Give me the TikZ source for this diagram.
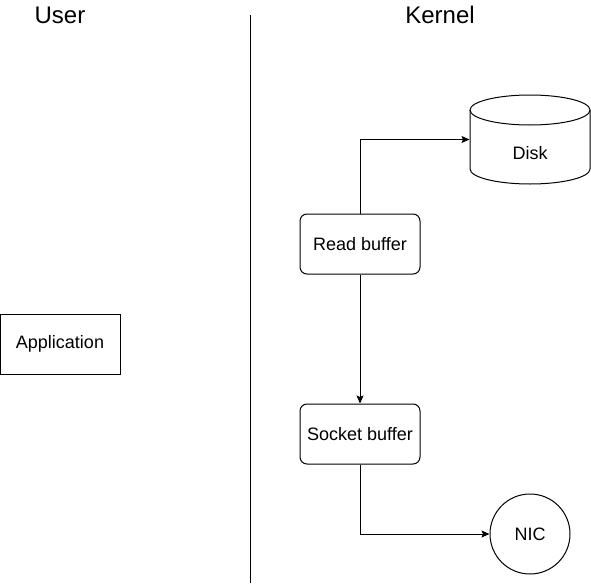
\documentclass[tikz,border=0pt]{standalone}
\usepackage{fontspec}
\setmainfont{Liberation Sans}
\usetikzlibrary{arrows.meta}
\begin{document}
\begin{tikzpicture}[x=1pt,y=-1pt,line width=1pt,
  every node/.style={font=\fontsize{18}{21}\selectfont, inner sep=0pt},
  rbox/.style={draw, rounded corners=7pt, minimum width=120pt, minimum height=60pt},
  sbox/.style={draw, minimum width=120pt, minimum height=60pt},
  title/.style={font=\fontsize{24}{28}\selectfont},
  arr/.style={-{Stealth[length=8pt,width=7pt,inset=1.5pt]}}]
\useasboundingbox (0,0) rectangle (591,586);
\node[title] (user) at (60,15) {User};
\node[title] (kernel) at (440,15) {Kernel};
\coordinate (divtop) at (250,15);
\coordinate (divbot) at (250,583);
\draw (divtop) -- (divbot);
% disk
\node[minimum width=120pt, minimum height=89pt] (disk) at (530,139.5) {};
\draw (470,110) -- (470,169) arc[start angle=180,end angle=0,x radius=60,y radius=15] -- (590,110);
\draw (530,110) ellipse[x radius=60,y radius=15];
\node (disklbl) at (530,153) {Disk};
\node[rbox] (rb) at (360,244) {Read buffer};
\node[sbox] (app) at (60,344) {Application};
\node[rbox] (sb) at (360,434) {Socket buffer};
\node[draw, circle, minimum size=80pt] (nic) at (530,534) {NIC};
\draw[arr] (rb.north) |- (disk.west);
\draw[arr] (rb.south) -- (sb.north);
\draw[arr] (sb.south) |- (nic.west);
\end{tikzpicture}
\end{document}
